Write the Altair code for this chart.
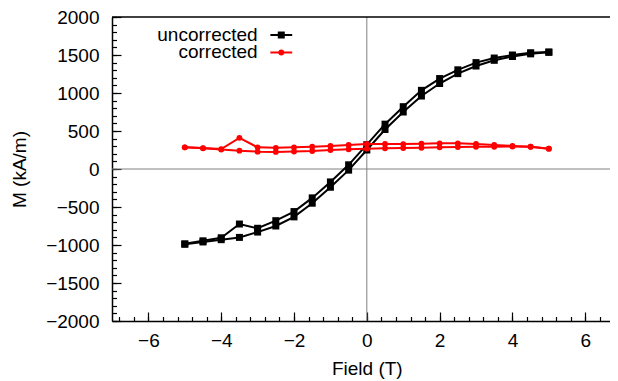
import altair as alt
import pandas as pd

# ---- data ----
field_down = [5.0, 4.5, 4.0, 3.5, 3.0, 2.5, 2.0, 1.5, 1.0, 0.5, 0.0,
              -0.5, -1.0, -1.5, -2.0, -2.5, -3.0, -3.5, -4.0, -4.5, -5.0]
field_up = field_down[::-1]

uncorrected_down = [1540, 1530, 1500, 1460, 1400, 1305, 1190, 1035, 820, 590, 320,
                    55, -170, -380, -560, -680, -780, -724, -905, -945, -985]
uncorrected_up = [-990, -960, -930, -900, -830, -750, -630, -450, -240, -15, 250,
                  520, 750, 960, 1125, 1255, 1355, 1430, 1480, 1515, 1535]
corrected_down = [267, 293, 303, 316, 329, 338, 338, 332, 328, 329, 329,
                  316, 303, 293, 285, 278, 285, 410, 262, 275, 285]
corrected_up = [285, 272, 255, 241, 228, 225, 230, 237, 250, 260, 268,
                272, 276, 280, 285, 290, 292, 293, 295, 293, 267]

series_names = ["uncorrected", "corrected"]
x_major = [-6, -4, -2, 0, 2, 4, 6]
y_major = [-2000, -1500, -1000, -500, 0, 500, 1000, 1500, 2000]
x_minor = [round(-6.8 + 0.4 * i, 1) for i in range(34)]
y_minor = list(range(-2000, 2001, 100))

# ---- layout constants ----
FONT = "Liberation Sans"
FS = 19
W, H = 498, 304
X_MAX = 6.68
LEG_TEXT_X = -3.0
LEG_LINE_X1, LEG_LINE_X2 = -2.65, -2.05
LEG_MARK_X = -2.35
LEG_Y = [1763, 1533]

rows = []
for f, m in zip(field_down, uncorrected_down):
    rows.append(dict(field=f, M=m, series="uncorrected", branch="down"))
for f, m in zip(field_up, uncorrected_up):
    rows.append(dict(field=f, M=m, series="uncorrected", branch="up"))
for f, m in zip(field_down, corrected_down):
    rows.append(dict(field=f, M=m, series="corrected", branch="down"))
for f, m in zip(field_up, corrected_up):
    rows.append(dict(field=f, M=m, series="corrected", branch="up"))
df = pd.DataFrame(rows)
df_unc = df[df.series == "uncorrected"]
df_cor = df[df.series == "corrected"]

legend_df = pd.DataFrame({
    "label": series_names,
    "tx": [LEG_TEXT_X] * 2,
    "lx1": [LEG_LINE_X1] * 2,
    "lx2": [LEG_LINE_X2] * 2,
    "mx": [LEG_MARK_X] * 2,
    "ly": LEG_Y,
})

xs = alt.Scale(domain=[-7, X_MAX], nice=False, zero=False)
ys = alt.Scale(domain=[-2000, 2000], nice=False, zero=False)

x_axis = alt.Axis(orient="bottom", values=x_major, format="d", ticks=False,
                  labelPadding=25, labelBaseline="alphabetic", labelFontSize=FS,
                  labelFont=FONT, labelColor="black", labelFlush=False,
                  domainColor="black", domainWidth=1.5, grid=False,
                  title="Field (T)", titleFont=FONT, titleFontSize=FS,
                  titleFontWeight="normal", titleColor="black",
                  titleX=7 * W / (7 + X_MAX), titleY=53,
                  titleBaseline="alphabetic")
y_axis = alt.Axis(orient="left", values=y_major, format="d", ticks=False,
                  labelPadding=13, labelFontSize=FS, labelFont=FONT,
                  labelColor="black", labelFlush=False,
                  domainColor="black", domainWidth=1.5, grid=False,
                  title="M (kA/m)", titleFont=FONT, titleFontSize=FS,
                  titleFontWeight="normal", titleColor="black",
                  titleX=-93, titleY=H / 2, titleAlign="center",
                  titleBaseline="middle")


def X(f):
    return alt.X(f, scale=xs, axis=x_axis)


def Y(f):
    return alt.Y(f, scale=ys, axis=y_axis)


zero_df = pd.DataFrame({"z": [0]})
top_df = pd.DataFrame({"top": [2000]})

zero_v = alt.Chart(zero_df).mark_rule(color="#808080", strokeWidth=1).encode(x=X("z:Q"))
zero_h = alt.Chart(zero_df).mark_rule(color="#808080", strokeWidth=1).encode(y=Y("z:Q"))
top_line = alt.Chart(top_df).mark_rule(color="black", strokeWidth=1.5).encode(y=Y("top:Q"))

unc_line = alt.Chart(df_unc).mark_line(color="black", strokeWidth=2).encode(
    x=X("field:Q"), y=Y("M:Q"), detail="branch:N")
unc_pts = alt.Chart(df_unc).mark_point(shape="square", filled=True, size=49,
                                       color="black", opacity=1).encode(
    x=X("field:Q"), y=Y("M:Q"))
cor_line = alt.Chart(df_cor).mark_line(color="#ff0000", strokeWidth=2).encode(
    x=X("field:Q"), y=Y("M:Q"), detail="branch:N")
cor_pts = alt.Chart(df_cor).mark_point(shape="circle", filled=True, size=34,
                                       color="#ff0000", opacity=1).encode(
    x=X("field:Q"), y=Y("M:Q"))

leg_text = alt.Chart(legend_df).mark_text(align="right", baseline="middle",
                                          font=FONT, fontSize=FS, color="black").encode(
    x=X("tx:Q"), y=Y("ly:Q"), text="label:N")
leg_line = alt.Chart(legend_df).mark_rule(strokeWidth=2).encode(
    x=X("lx1:Q"), x2="lx2:Q", y=Y("ly:Q"),
    color=alt.Color("label:N", scale=alt.Scale(domain=series_names,
                                                range=["#000000", "#ff0000"]),
                    legend=None))
leg_sq = alt.Chart(legend_df[legend_df.label == "uncorrected"]).mark_point(
    shape="square", filled=True, size=49, color="black", opacity=1).encode(
    x=X("mx:Q"), y=Y("ly:Q"))
leg_ci = alt.Chart(legend_df[legend_df.label == "corrected"]).mark_point(
    shape="circle", filled=True, size=34, color="#ff0000", opacity=1).encode(
    x=X("mx:Q"), y=Y("ly:Q"))

main = alt.layer(zero_v, zero_h, top_line, unc_line, unc_pts,
                 cor_line, cor_pts, leg_line, leg_sq, leg_ci, leg_text)


def tick_layer(xv, yv, size):
    # inward ticks: an outward-pointing axis shifted into the plot by its tick length
    return alt.Chart(df).mark_point(opacity=0).encode(
        x=alt.X("field:Q", scale=xs,
                axis=alt.Axis(orient="bottom", offset=-size, values=xv,
                              labels=False, domain=False, grid=False,
                              tickSize=size, tickColor="black", tickWidth=1.2,
                              title=None)),
        y=alt.Y("M:Q", scale=ys,
                axis=alt.Axis(orient="left", offset=-size, values=yv,
                              labels=False, domain=False, grid=False,
                              tickSize=size, tickColor="black", tickWidth=1.2,
                              title=None)),
    )


major = tick_layer(x_major, y_major, 9)
minor = tick_layer(x_minor, y_minor, 4.5)

chart = alt.layer(main, major, minor).resolve_scale(
    x="independent", y="independent"
).properties(
    width=W, height=H,
    autosize=alt.AutoSizeParams(type="none"),
    padding={"left": 104, "top": 9, "right": 0, "bottom": 60},
    background="white",
).configure_view(stroke="transparent", strokeOpacity=0, strokeWidth=0)

chart.save("out.html", embed_options={"renderer": "svg", "actions": False})
